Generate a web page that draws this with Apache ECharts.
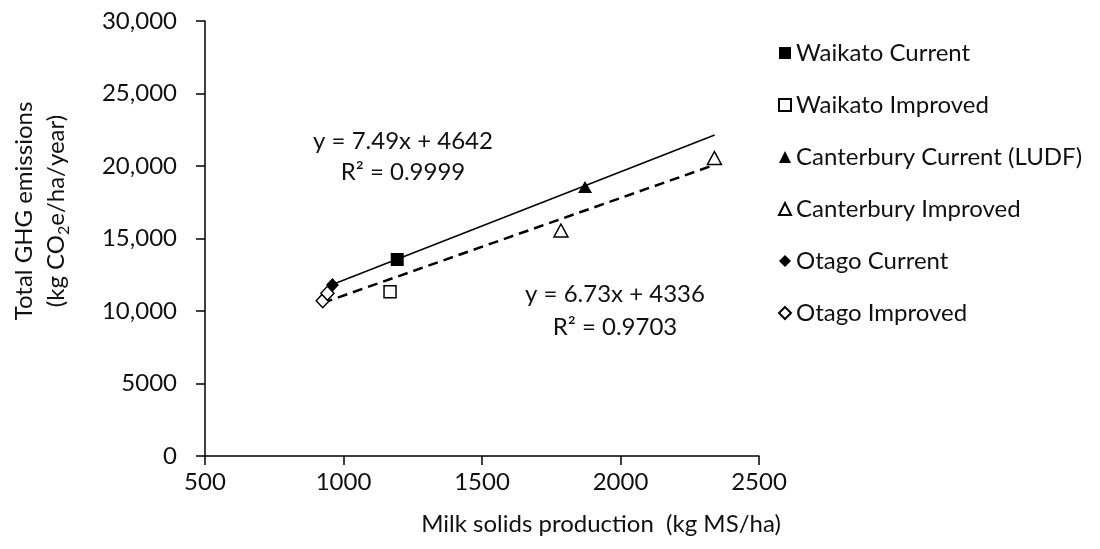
<!DOCTYPE html>
<html>
<head>
<meta charset="utf-8">
<script src="https://cdn.jsdelivr.net/npm/echarts@6/dist/echarts.min.js"></script>
<style>
  html, body { margin: 0; padding: 0; background: #fff; }
  #chart { width: 1100px; height: 549px; }
</style>
</head>
<body>
<div id="chart"></div>
<script>
/* global echarts */
// points: [milk solids kg MS/ha, total GHG kg CO2e/ha/yr]
const waikato_current = [[1194, 13550]];
const waikato_improved = [[1168, 11330]];
const canterbury_current = [[1872, 18550]];
const canterbury_improved = [[1785, 15550], [2339, 20550]];
const otago_current = [[960, 11800]];
const otago_improved = [[925, 10710], [942, 11220]];

// trend line end points
const trend_current = [[960, 11830], [2340, 22140]];
const trend_improved = [[925, 10560], [2340, 20080]];

const y_tick_labels = ['0', '5000', '10,000', '15,000', '20,000', '25,000', '30,000'];
const x_tick_labels = ['500', '1000', '1500', '2000', '2500'];

const FONT = 'Lato';
const INK = '#111';

function scatter_series(name, data, symbol, size, filled) {
    return {
        name: name,
        type: 'scatter',
        data: data,
        symbol: symbol,
        symbolSize: size,
        z: 5,
        itemStyle: filled
            ? { color: '#000', opacity: 1 }
            : { color: '#fff', borderColor: '#000', borderWidth: 1.5, opacity: 1 }
    };
}

function trend_series(data, dashed) {
    return {
        type: 'line',
        data: data,
        symbol: 'none',
        silent: true,
        z: 2,
        lineStyle: { color: '#000', width: dashed ? 2.5 : 1.5, type: dashed ? [10, 6] : 'solid' }
    };
}

const chart = echarts.init(document.getElementById('chart'));
const option = {
    animation: false,
    backgroundColor: '#fff',
    grid: { left: 205, right: 341, top: 21, bottom: 93 },
    legend: {
        orient: 'vertical',
        left: 773,
        top: 35,
        itemWidth: 12,
        itemHeight: 12,
        itemGap: 26,
        inactiveColor: '#000',
        data: ['Waikato Current', 'Waikato Improved', 'Canterbury Current (LUDF)',
            'Canterbury Improved', 'Otago Current', 'Otago Improved'],
        textStyle: { fontFamily: FONT, fontSize: 24, color: INK, lineHeight: 26 }
    },
    xAxis: {
        type: 'value',
        min: 500,
        max: 2500,
        interval: 500,
        splitLine: { show: false },
        axisLine: { lineStyle: { color: '#000', width: 1.5 } },
        axisTick: { show: true, length: 9, lineStyle: { color: '#000', width: 1.5 } },
        axisLabel: {
            margin: 14,
            fontFamily: FONT, fontSize: 24, color: INK,
            formatter: v => x_tick_labels[(v - 500) / 500]
        }
    },
    yAxis: {
        type: 'value',
        min: 0,
        max: 30000,
        interval: 5000,
        splitLine: { show: false },
        axisLine: { show: true, lineStyle: { color: '#000', width: 1.5 } },
        axisTick: { show: true, length: 9, lineStyle: { color: '#000', width: 1.5 } },
        axisLabel: {
            margin: 28,
            fontFamily: FONT, fontSize: 24, color: INK,
            formatter: v => y_tick_labels[v / 5000]
        }
    },
    graphic: [
        {
            type: 'text', x: 40, y: 211, rotation: Math.PI / 2,
            style: {
                text: '{t|Total GHG emissions}\n{t|(kg CO}{sub|2}{t|e/ha/year)}',
                align: 'center', verticalAlign: 'middle',
                fontFamily: FONT, fontSize: 24, fill: INK,
                rich: {
                    t: { fontFamily: FONT, fontSize: 24, fill: INK, lineHeight: 32 },
                    sub: { fontFamily: FONT, fontSize: 16, fill: INK, lineHeight: 14, verticalAlign: 'bottom' }
                }
            }
        },
        {
            type: 'text', x: 601, y: 524,
            style: {
                text: 'Milk solids production  (kg MS/ha)',
                align: 'center', verticalAlign: 'middle',
                fontFamily: FONT, fontSize: 24, fill: INK
            }
        },
        {
            type: 'text', x: 403, y: 157,
            style: {
                text: 'y = 7.49x + 4642\nR\u00b2 = 0.9999',
                align: 'center', verticalAlign: 'middle',
                fontFamily: FONT, fontSize: 24, fill: INK, lineHeight: 31
            }
        },
        {
            type: 'text', x: 615, y: 311,
            style: {
                text: 'y = 6.73x + 4336\nR\u00b2 = 0.9703',
                align: 'center', verticalAlign: 'middle',
                fontFamily: FONT, fontSize: 24, fill: INK, lineHeight: 33
            }
        }
    ],
    series: [
        trend_series(trend_current, false),
        trend_series(trend_improved, true),
        scatter_series('Waikato Current', waikato_current, 'rect', 13, true),
        scatter_series('Waikato Improved', waikato_improved, 'rect', 12, false),
        scatter_series('Canterbury Current (LUDF)', canterbury_current, 'triangle', [14, 12], true),
        scatter_series('Canterbury Improved', canterbury_improved, 'triangle', [14, 13], false),
        scatter_series('Otago Current', otago_current, 'diamond', [13, 14], true),
        scatter_series('Otago Improved', otago_improved, 'diamond', [13, 14], false)
    ]
};
chart.setOption(option);
</script>
</body>
</html>
